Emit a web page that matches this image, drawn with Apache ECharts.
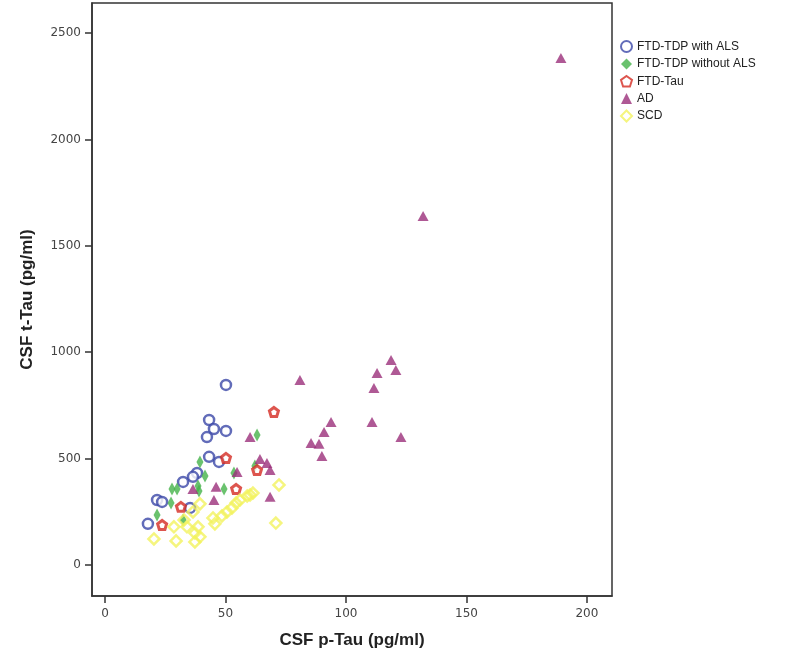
<!DOCTYPE html>
<html>
<head>
<meta charset="utf-8">
<script src="https://cdn.jsdelivr.net/npm/echarts@6/dist/echarts.min.js"></script>
<style>
html,body{margin:0;padding:0;background:#fff;}
#chart{width:788px;height:657px;}
</style>
</head>
<body>
<div id="chart"></div>
<script>
// Series names
const seriesNames = ["FTD-TDP with ALS", "FTD-TDP without ALS", "FTD-Tau", "AD", "SCD"];

// Tick labels
const xTicks = [0, 50, 100, 150, 200];
const yTicks = [0, 500, 1000, 1500, 2000, 2500];

// Data: [p-Tau, t-Tau]
const ftdTdpWithAls = [
  [50.2, 846], [43.2, 681], [45.2, 639], [50.2, 630], [42.3, 601],
  [43.2, 508], [47.3, 484], [38.2, 432], [36.5, 414], [32.4, 390],
  [21.6, 305], [23.7, 296], [35.3, 268], [17.8, 193]
];
const ftdTdpWithoutAls = [
  [63.1, 611], [39.4, 484], [41.5, 418], [38.6, 371], [27.8, 357],
  [29.9, 357], [49.4, 357], [27.4, 291], [21.6, 235], [53.5, 432],
  [62.2, 465], [32.4, 211], [39.0, 348]
];
const ftdTau = [
  [70.1, 719], [50.2, 503], [63.1, 446], [54.4, 357], [31.5, 273], [23.7, 188]
];
const ad = [
  [189.2, 2383], [132.0, 1640], [80.9, 869], [118.7, 963], [112.9, 902],
  [120.7, 916], [111.6, 832], [93.8, 672], [90.9, 625], [110.8, 672],
  [85.5, 573], [88.8, 569], [90.0, 512], [122.8, 601], [60.2, 601],
  [64.3, 498], [67.2, 479], [68.5, 446], [54.8, 437], [46.1, 367],
  [45.2, 305], [68.5, 320], [36.5, 357]
];
const scd = [
  [20.3, 122], [29.5, 113], [37.3, 108], [28.6, 179], [34.0, 179],
  [38.6, 179], [39.4, 132], [32.8, 211], [37.3, 150], [36.5, 249],
  [39.4, 287], [44.8, 221], [48.5, 230], [45.6, 193], [50.6, 249],
  [52.7, 268], [54.4, 291], [56.0, 305], [59.0, 324], [61.4, 338],
  [72.2, 376], [60.2, 329], [70.9, 197]
];

const pentagon = 'path://M0,-100 L95,-31 L59,81 L-59,81 L-95,-31 Z';

const chart = echarts.init(document.getElementById('chart'), null, {renderer: 'canvas'});
const labelFont = {fontFamily: 'DejaVu Sans', fontSize: 12, color: '#444', formatter: v => String(v)};
const titleFont = {fontFamily: 'Liberation Sans', fontSize: 17, fontWeight: 'bold', color: '#222'};

chart.setOption({
  backgroundColor: '#fff',
  animation: false,
  grid: {left: 92, right: 176, top: 3, bottom: 61, show: true, borderColor: '#333', borderWidth: 1.5, backgroundColor: '#fff'},
  legend: {
    orient: 'vertical', left: 615, top: 35, itemWidth: 11, itemHeight: 11, itemGap: 5,
    textStyle: {fontFamily: 'Liberation Sans', fontSize: 12, color: '#222'},
    data: seriesNames
  },
  xAxis: {
    type: 'value', min: -5.4, max: 210.4,
    name: 'CSF p-Tau (pg/ml)', nameLocation: 'middle', nameGap: 36, nameTextStyle: titleFont,
    splitLine: {show: false},
    axisLine: {show: true, onZero: false, lineStyle: {color: '#333', width: 1.5}},
    axisTick: {show: true, customValues: xTicks, length: 7, lineStyle: {color: '#333', width: 1.5}},
    axisLabel: Object.assign({customValues: xTicks, margin: 12}, labelFont)
  },
  yAxis: {
    type: 'value', min: -146, max: 2641,
    name: 'CSF t-Tau (pg/ml)', nameLocation: 'middle', nameGap: 56, nameRotate: 90, nameTextStyle: titleFont,
    splitLine: {show: false},
    axisLine: {show: true, onZero: false, lineStyle: {color: '#333', width: 1.5}},
    axisTick: {show: true, customValues: yTicks, length: 7, lineStyle: {color: '#333', width: 1.5}},
    axisLabel: Object.assign({customValues: yTicks, margin: 11}, labelFont)
  },
  series: [
    {name: seriesNames[0], type: 'scatter', data: ftdTdpWithAls, symbol: 'circle', symbolSize: 10,
     itemStyle: {color: '#fff', borderColor: '#3b47a8', borderWidth: 2.5}},
    {name: seriesNames[1], type: 'scatter', data: ftdTdpWithoutAls, symbol: 'diamond', symbolSize: [7, 13],
     itemStyle: {color: '#45b34a'}},
    {name: seriesNames[2], type: 'scatter', data: ftdTau, symbol: pentagon, symbolSize: 9,
     itemStyle: {color: '#fff', borderColor: '#d42b22', borderWidth: 3}},
    {name: seriesNames[3], type: 'scatter', data: ad, symbol: 'triangle', symbolSize: [11, 10],
     itemStyle: {color: '#9b2f7a'}},
    {name: seriesNames[4], type: 'scatter', data: scd, symbol: 'diamond', symbolSize: 11,
     itemStyle: {color: 'rgba(255,255,255,0)', borderColor: '#f2f25e', borderWidth: 2.5}}
  ]
});
</script>
</body>
</html>
